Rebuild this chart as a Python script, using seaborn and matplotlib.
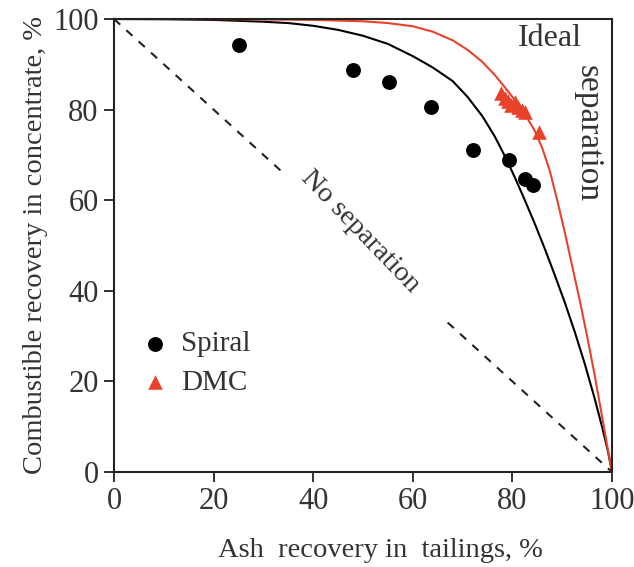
import matplotlib
matplotlib.use("Agg")
import matplotlib.pyplot as plt
import seaborn as sns

# ---- data ----
spiral_x = [25.1, 48.0, 55.2, 63.6, 72.0, 79.4, 82.5, 84.2]
spiral_y = [94.3, 88.8, 86.2, 80.5, 71.1, 68.9, 64.7, 63.4]

dmc_x = [77.8, 78.5, 79.2, 79.8, 80.5, 81.2, 82.0, 82.6, 85.3]
dmc_y = [83.6, 82.6, 81.8, 81.0, 81.6, 80.6, 80.0, 79.4, 75.0]

black_curve_x = [0, 10, 20, 30, 35, 40, 45, 50, 55, 60, 64, 68, 71, 74, 76.5,
                 78.5, 80.5, 82.5, 84.5, 86.5, 88.5, 90.5, 92.5, 94.5, 96.5,
                 98, 99.2, 100]
black_curve_y = [100, 99.95, 99.8, 99.4, 99.1, 98.5, 97.6, 96.3, 94.5, 91.8,
                 89.3, 86.3, 82.8, 78.5, 74, 69.7, 65, 60, 54.8, 49.3, 43.5,
                 37.5, 31, 24, 16.3, 10, 4.5, 0]

red_curve_x = [0, 20, 40, 50, 55, 60, 64, 68, 71, 74, 76.5, 78.5, 80.5, 82.5,
               84.5, 86, 87.5, 89, 90.5, 92, 93.5, 95, 96.5, 97.8, 99, 100]
red_curve_y = [100, 99.98, 99.8, 99.5, 99.1, 98.4, 97.2, 95.3, 93.2, 90.5,
               87.6, 84.9, 82.1, 79, 75.3, 71.5, 66.5, 60, 53, 45.5, 38, 30,
               21.5, 13.5, 6, 0]

diag_upper_x = [0, 34]
diag_upper_y = [100, 66]
diag_lower_x = [67, 100]
diag_lower_y = [33, 0]

xticks = [0, 20, 40, 60, 80, 100]
yticks = [0, 20, 40, 60, 80, 100]

RED = "#e8432a"
TXT = "#333333"

sns.set_style("ticks")
plt.rcParams["font.family"] = ["Liberation Serif", "DejaVu Serif"]

fig = plt.figure(figsize=(6.34, 5.67), dpi=100)
ax = fig.add_axes([114 / 634, 1 - 472 / 567, (612 - 114) / 634, (472 - 19) / 567])

sns.lineplot(x=diag_upper_x, y=diag_upper_y, ax=ax, color="#222222", lw=1.5,
             linestyle=(0, (4, 4)), sort=False)
sns.lineplot(x=diag_lower_x, y=diag_lower_y, ax=ax, color="#222222", lw=1.5,
             linestyle=(0, (4, 4)), sort=False)
sns.lineplot(x=black_curve_x, y=black_curve_y, ax=ax, color="black", lw=1.5, sort=False)
sns.lineplot(x=red_curve_x, y=red_curve_y, ax=ax, color=RED, lw=1.5, sort=False)

sns.scatterplot(x=spiral_x, y=spiral_y, ax=ax, color="black", marker="o", s=115,
                edgecolor="black", linewidth=0, label="Spiral", zorder=5)
sns.scatterplot(x=dmc_x, y=dmc_y, ax=ax, color=RED, marker="^", s=110,
                edgecolor=RED, linewidth=0, label="DMC", zorder=5)

ax.set_xlim(0, 100)
ax.set_ylim(0, 100)
ax.set_xticks(xticks)
ax.set_yticks(yticks)
ax.tick_params(axis="both", direction="out", length=7, width=1.3, labelsize=22,
               colors="#222222", pad=4)
for lab in ax.get_xticklabels() + ax.get_yticklabels():
    lab.set_color(TXT)
for sp in ax.spines.values():
    sp.set_linewidth(1.5)
    sp.set_color("#222222")
    sp.set_visible(True)

ax.set_xlabel("Ash  recovery in  tailings, %", fontsize=20.5, color=TXT, labelpad=15)
ax.xaxis.set_label_coords(0.535, -0.146)
ax.set_ylabel("Combustible recovery in concentrate, %", fontsize=20.5, color=TXT, labelpad=4)

ax.text(49.5, 53, "No separation", rotation=-46, ha="center", va="center",
        fontsize=20.5, color=TXT)
ax.text(87.5, 95.8, "Ideal", ha="center", va="center", fontsize=23, color=TXT)
ax.text(95.2, 74.6, "separation", rotation=-90, ha="center", va="center",
        fontsize=24, color=TXT)

leg = ax.legend(loc="upper left", bbox_to_anchor=(0.026, 0.337), frameon=False,
                fontsize=21, handletextpad=0.35, labelspacing=0.42,
                borderaxespad=0, handlelength=1.1)
for t in leg.get_texts():
    t.set_color(TXT)

fig.savefig("out.png", dpi=100)
